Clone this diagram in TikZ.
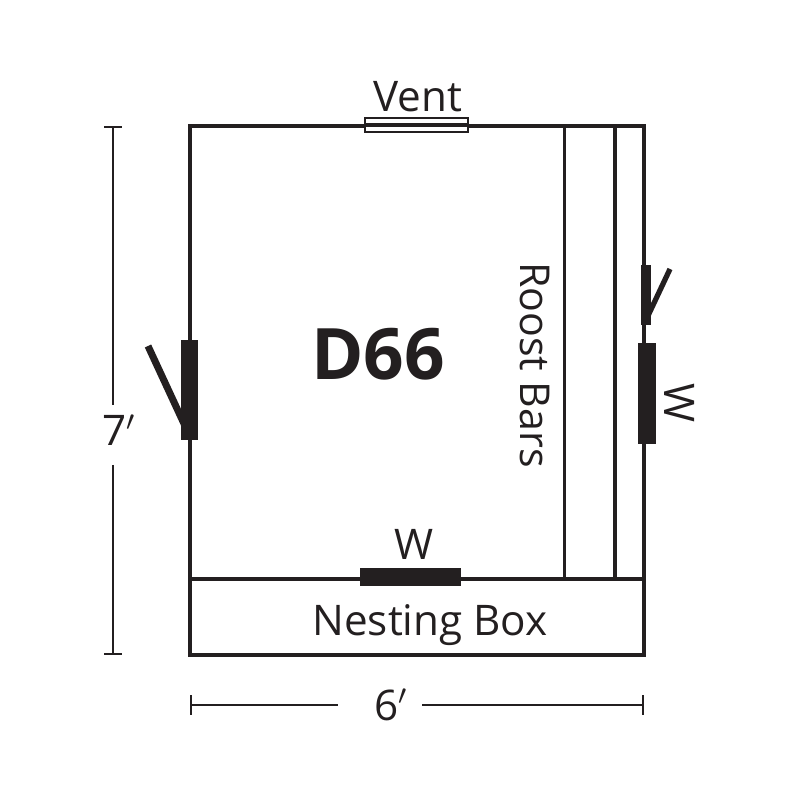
\documentclass[tikz,border=0pt]{standalone}
\usepackage{fontspec}
\setmainfont{Open Sans}
\usetikzlibrary{calc}
\definecolor{ink}{RGB}{35, 31, 32}
\tikzset{
wall/.style={line width=1.25pt,ink,line cap=round},
bar/.style={line width=.9pt,ink},
dim/.style={line width=.55pt,ink},
leaf/.style={ink,line width=2pt},
solid block/.style={fill=ink,draw=none,inner sep=0pt,rectangle},
label/.style={ink,inner sep=0pt,font=\fontsize{12}{14}\selectfont},
}
\begin{document}
\begin{tikzpicture}
\useasboundingbox (0,0) rectangle (8,8);
\coordinate (nw) at (1.9,6.74);
\coordinate (ne) at (6.44,6.74);
\coordinate (sw) at (1.9,1.45);
\coordinate (se) at (6.44,1.45);
\coordinate (boxl) at (1.9,2.21);
\coordinate (boxr) at (6.44,2.21);
\coordinate (roost1t) at (5.645,6.74);
\coordinate (roost1b) at (5.645,2.21);
\coordinate (roost2t) at (6.15,6.74);
\coordinate (roost2b) at (6.15,2.21);
\coordinate (leftfree) at (1.48,4.54);
\coordinate (lefthinge) at (1.86,3.72);
\coordinate (rightfree) at (6.70,5.31);
\coordinate (righthinge) at (6.46,4.80);
\coordinate (h1t) at (1.13,6.73);
\coordinate (h1b) at (1.13,3.95);
\coordinate (h2t) at (1.13,3.35);
\coordinate (h2b) at (1.13,1.46);
\coordinate (w1l) at (1.91,.95);
\coordinate (w1r) at (3.38,.95);
\coordinate (w2l) at (4.22,.95);
\coordinate (w2r) at (6.43,.95);
% walls
\draw[wall] (nw) -- (ne) -- (se) -- (sw) -- cycle;
\draw[bar] (boxl) -- (boxr);
\draw[bar] (roost1t) -- (roost1b);
\draw[bar] (roost2t) -- (roost2b);
% vent and windows
\node[draw=ink,fill=white,line width=.4pt,inner sep=0pt,minimum width=1.03cm,minimum height=.14cm] (vent) at (4.165,6.75) {};
\draw[bar] (vent.west) -- (vent.east);
\node[solid block,minimum width=.17cm,minimum height=1cm] (doorleft) at (1.895,4.10) {};
\node[solid block,minimum width=.10cm,minimum height=.60cm] (doorright) at (6.46,5.05) {};
\node[solid block,minimum width=.18cm,minimum height=1.01cm] (winright) at (6.47,4.065) {};
\node[solid block,minimum width=1.01cm,minimum height=.18cm] (winbottom) at (4.105,2.23) {};
\draw[leaf] (leftfree) -- (lefthinge);
\draw[leaf,line width=1.5pt] (rightfree) -- (righthinge);
% dimensions
\draw[dim,line width=.7pt] (h1t) -- (h1b);
\draw[dim,line width=.7pt] (h2t) -- (h2b);
\draw[dim] ($(h1t)+(-.09,0)$) -- ($(h1t)+(.09,0)$);
\draw[dim] ($(h2b)+(-.09,0)$) -- ($(h2b)+(.09,0)$);
\draw[dim] (w1l) -- (w1r);
\draw[dim] (w2l) -- (w2r);
\draw[dim] ($(w1l)+(0,-.1)$) -- ($(w1l)+(0,.1)$);
\draw[dim] ($(w2r)+(0,-.1)$) -- ($(w2r)+(0,.1)$);
% labels
\node[label] (ventlabel) at (4.18,7.03) {Vent};
\node[ink,inner sep=0pt,font=\bfseries\fontsize{20.2}{23}\selectfont] (plan) at (3.78,4.46) {D66};
\node[label,font=\fontsize{11.7}{14}\selectfont,rotate=-90] (roost) at (5.35,4.35) {Roost Bars};
\node[label,rotate=-90] (wright) at (6.80,3.97) {W};
\node[label] (wbottom) at (4.14,2.56) {W};
\node[label] (nesting) at (4.30,1.745) {Nesting Box};
\node[label] (seven) at (1.19,3.70) {7$'$};
\node[label] (six) at (3.91,.95) {6$'$};
\end{tikzpicture}
\end{document}
